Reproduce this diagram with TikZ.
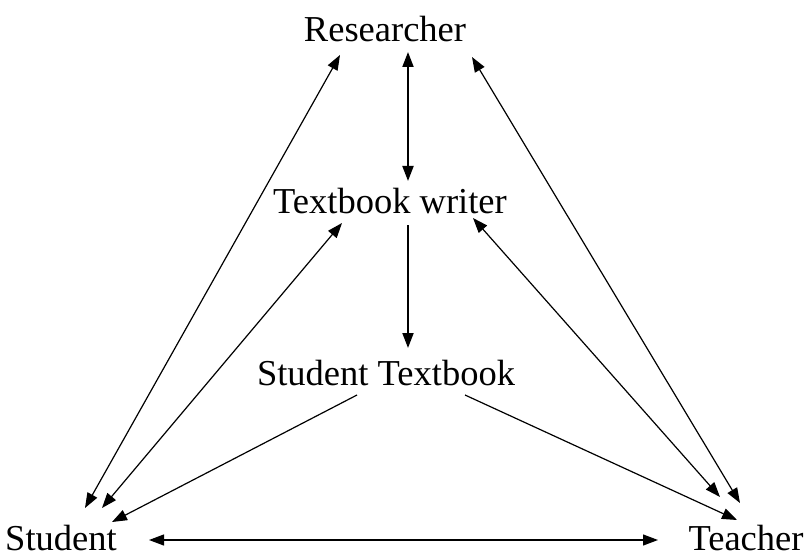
\documentclass[tikz,border=0pt]{standalone}
\usepackage{fontspec}
\setmainfont{Liberation Serif}
\usetikzlibrary{arrows.meta}
\begin{document}
\begin{tikzpicture}[x=1pt,y=-1pt,
  >={Triangle[length=15pt,width=11pt]},
  lbl/.style={anchor=base,inner sep=0pt,font=\fontsize{36.5}{40}\selectfont},
  thinline/.style={line width=1.2pt},
  thickline/.style={line width=1.9pt}]
\useasboundingbox (0,0) rectangle (808,556);
\node[lbl] (res) at (385,42) {Researcher};
\node[lbl] (tw) at (390,213) {Textbook writer};
\node[lbl] (st) at (386,385) {Student Textbook};
\node[lbl] (stu) at (61,550) {Student};
\node[lbl] (tea) at (746,550) {Teacher};
% endpoints
\coordinate (v1a) at (408,52);
\coordinate (v1b) at (408,181);
\coordinate (v2a) at (408,225);
\coordinate (v2b) at (408,348);
\coordinate (rs1) at (340,55);
\coordinate (rs2) at (85,508);
\coordinate (ws1) at (342,223);
\coordinate (ws2) at (102,508);
\coordinate (ss1) at (357,395);
\coordinate (ss2) at (112,522);
\coordinate (h1) at (149,540);
\coordinate (h2) at (658,540);
\coordinate (rt1) at (472,57);
\coordinate (rt2) at (740,503);
\coordinate (wt1) at (473,218);
\coordinate (wt2) at (720,497);
\coordinate (stt1) at (465,395);
\coordinate (stt2) at (737,520);
\draw[thickline,<->] (v1a) -- (v1b);
\draw[thickline,->] (v2a) -- (v2b);
\draw[thinline,<->] (rs1) -- (rs2);
\draw[thinline,<->] (ws1) -- (ws2);
\draw[thinline,->] (ss1) -- (ss2);
\draw[thinline,<->] (h1) -- (h2);
\draw[thinline,<->] (rt1) -- (rt2);
\draw[thinline,<->] (wt1) -- (wt2);
\draw[thinline,->] (stt1) -- (stt2);
\end{tikzpicture}
\end{document}
